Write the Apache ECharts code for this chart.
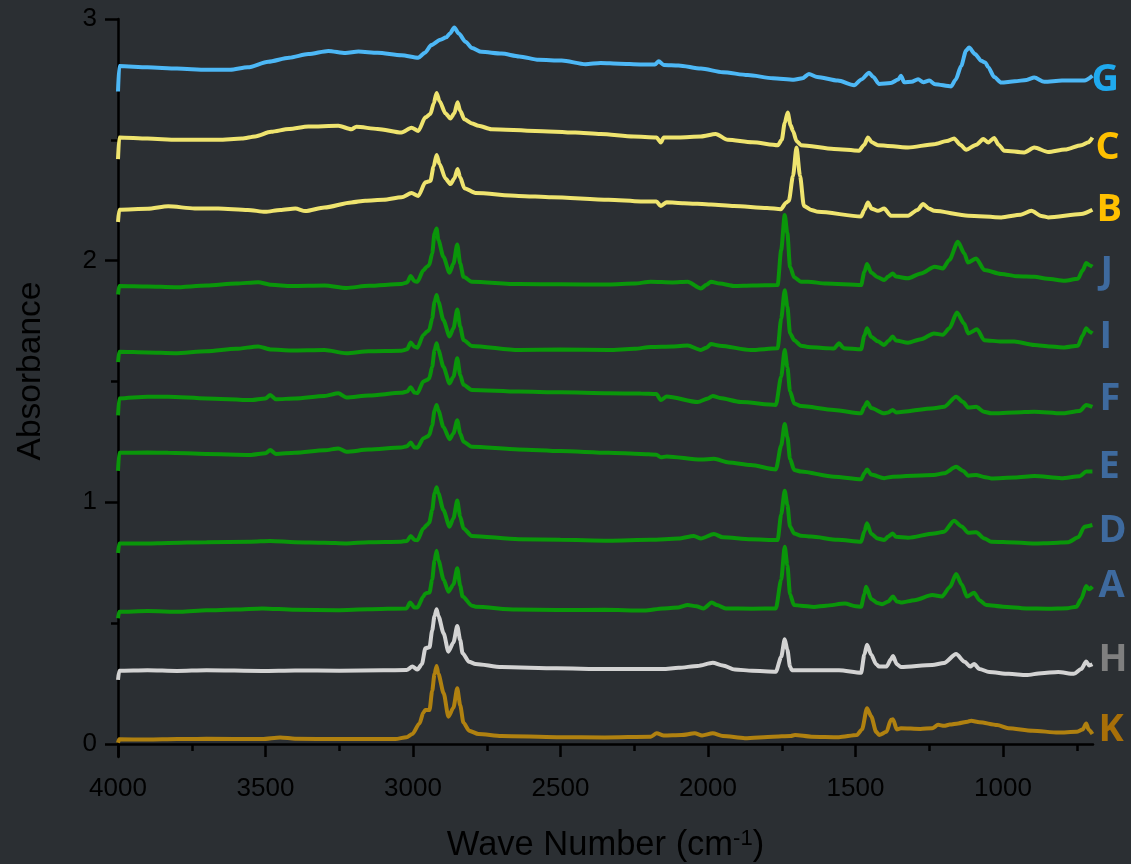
<!DOCTYPE html>
<html>
<head>
<meta charset="utf-8">
<script src="https://cdn.jsdelivr.net/npm/echarts@6/dist/echarts.min.js"></script>
<style>
html,body{margin:0;padding:0;background:#2b2f33;}
#chart{width:1131px;height:864px;}
</style>
</head>
<body>
<div id="chart"></div>
<script>
// ---- tick labels ----
const xTicks = [4000, 3500, 3000, 2500, 2000, 1500, 1000];
const xMinorTicks = [3750, 3250, 2750, 2250, 1750, 1250, 750];
const yTicks = [0, 1, 2, 3];
const yMinorTicks = [0.5, 1.5, 2.5];

// ---- series names (top to bottom) ----
const seriesNames = ['G', 'C', 'B', 'J', 'I', 'F', 'E', 'D', 'A', 'H', 'K'];

// ---- spectra: [wave number (cm-1), absorbance] ----
const G = [[4000,2.70],[3996,2.805],[3900,2.80],[3800,2.795],[3700,2.79],[3620,2.79],[3560,2.80],[3491,2.823],[3420,2.84],[3355,2.855],[3287,2.868],[3229,2.859],[3185,2.865],[3120,2.86],[3039,2.85],[2982,2.84],[2960,2.86],[2938,2.892],[2907,2.914],[2887,2.924],[2875,2.94],[2860,2.965],[2845,2.94],[2822,2.906],[2800,2.88],[2768,2.864],[2700,2.857],[2640,2.845],[2574,2.831],[2496,2.828],[2415,2.813],[2364,2.818],[2300,2.815],[2230,2.812],[2180,2.812],[2167,2.825],[2150,2.81],[2100,2.808],[2024,2.795],[1950,2.78],[1865,2.768],[1780,2.755],[1709,2.749],[1680,2.755],[1658,2.772],[1630,2.76],[1560,2.745],[1505,2.726],[1480,2.75],[1454,2.778],[1440,2.76],[1420,2.731],[1380,2.735],[1355,2.75],[1346,2.765],[1335,2.738],[1310,2.74],[1288,2.751],[1270,2.738],[1250,2.745],[1230,2.73],[1176,2.721],[1160,2.75],[1142,2.806],[1125,2.87],[1115,2.882],[1095,2.855],[1074,2.827],[1060,2.82],[1050,2.8],[1030,2.76],[1006,2.737],[960,2.742],[920,2.748],[894,2.758],[860,2.74],[800,2.745],[760,2.745],[724,2.745],[697,2.765]];

const C = [[4000,2.42],[3996,2.51],[3900,2.505],[3800,2.50],[3660,2.50],[3580,2.505],[3535,2.514],[3481,2.533],[3420,2.545],[3355,2.555],[3253,2.558],[3209,2.544],[3192,2.554],[3120,2.545],[3039,2.53],[3005,2.55],[2982,2.537],[2958,2.593],[2941,2.607],[2930,2.65],[2920,2.694],[2910,2.66],[2890,2.61],[2873,2.588],[2860,2.61],[2849,2.655],[2840,2.62],[2826,2.585],[2800,2.568],[2778,2.558],[2734,2.544],[2585,2.537],[2450,2.53],[2364,2.524],[2252,2.514],[2175,2.51],[2160,2.489],[2150,2.51],[2100,2.51],[2024,2.514],[1974,2.524],[1933,2.5],[1850,2.49],[1763,2.478],[1750,2.5],[1740,2.57],[1730,2.613],[1720,2.56],[1712,2.537],[1700,2.495],[1685,2.478],[1573,2.462],[1488,2.455],[1470,2.48],[1458,2.51],[1445,2.49],[1424,2.478],[1322,2.468],[1234,2.482],[1190,2.495],[1166,2.506],[1145,2.48],[1125,2.459],[1090,2.48],[1067,2.503],[1050,2.489],[1030,2.508],[1015,2.48],[996,2.455],[928,2.448],[894,2.468],[847,2.45],[790,2.46],[735,2.478],[710,2.49],[697,2.51]];

const B = [[4000,2.16],[3996,2.211],[3900,2.215],[3830,2.225],[3740,2.216],[3660,2.216],[3560,2.21],[3501,2.202],[3450,2.21],[3399,2.216],[3365,2.205],[3300,2.22],[3209,2.241],[3162,2.248],[3100,2.252],[3039,2.262],[3005,2.28],[2982,2.268],[2958,2.324],[2941,2.33],[2930,2.39],[2920,2.437],[2910,2.40],[2890,2.34],[2873,2.317],[2860,2.34],[2849,2.379],[2840,2.345],[2826,2.30],[2788,2.28],[2642,2.268],[2530,2.262],[2337,2.252],[2228,2.245],[2175,2.245],[2160,2.226],[2140,2.242],[2082,2.238],[1990,2.232],[1912,2.226],[1800,2.218],[1753,2.213],[1735,2.24],[1726,2.248],[1712,2.35],[1700,2.468],[1688,2.35],[1675,2.226],[1650,2.21],[1627,2.202],[1481,2.183],[1470,2.21],[1458,2.241],[1445,2.215],[1424,2.206],[1403,2.216],[1380,2.186],[1322,2.186],[1290,2.21],[1271,2.234],[1250,2.215],[1234,2.206],[1118,2.186],[1006,2.179],[940,2.19],[904,2.206],[870,2.185],[847,2.179],[735,2.193],[697,2.211]];

const J = [[4000,1.86],[3996,1.895],[3900,1.893],[3807,1.89],[3700,1.897],[3600,1.905],[3525,1.911],[3480,1.90],[3413,1.895],[3300,1.897],[3226,1.887],[3150,1.896],[3040,1.903],[3020,1.91],[3008,1.936],[2995,1.915],[2985,1.913],[2965,1.96],[2953,1.975],[2945,1.982],[2935,2.03],[2927,2.113],[2920,2.133],[2914,2.085],[2897,2.016],[2876,1.95],[2863,1.988],[2850,2.067],[2840,1.988],[2829,1.933],[2801,1.913],[2642,1.903],[2500,1.902],[2337,1.901],[2250,1.905],[2194,1.913],[2120,1.91],[2069,1.913],[2024,1.885],[2005,1.90],[1990,1.913],[1960,1.905],[1912,1.895],[1850,1.897],[1764,1.899],[1752,2.044],[1740,2.189],[1731,2.113],[1722,1.975],[1708,1.931],[1685,1.913],[1661,1.913],[1600,1.905],[1481,1.899],[1470,1.954],[1461,1.986],[1447,1.951],[1425,1.931],[1402,1.92],[1389,1.934],[1374,1.947],[1363,1.934],[1323,1.927],[1278,1.947],[1232,1.975],[1204,1.968],[1182,2.003],[1153,2.078],[1131,2.03],[1119,1.992],[1091,2.009],[1063,1.961],[1006,1.945],[950,1.935],[893,1.933],[850,1.925],[791,1.917],[746,1.925],[730,1.96],[718,1.99],[705,1.98],[697,1.975]];

const I = [[4000,1.58],[3996,1.623],[3900,1.62],[3807,1.617],[3700,1.625],[3600,1.635],[3525,1.645],[3480,1.632],[3413,1.628],[3300,1.63],[3226,1.617],[3150,1.625],[3040,1.627],[3020,1.633],[3008,1.661],[2995,1.644],[2985,1.64],[2965,1.692],[2953,1.706],[2945,1.713],[2935,1.761],[2927,1.83],[2920,1.858],[2914,1.83],[2897,1.754],[2876,1.686],[2863,1.72],[2850,1.798],[2840,1.727],[2829,1.672],[2801,1.647],[2642,1.63],[2500,1.632],[2337,1.63],[2250,1.635],[2194,1.643],[2120,1.645],[2069,1.649],[2024,1.63],[2005,1.64],[1990,1.655],[1960,1.648],[1855,1.63],[1764,1.637],[1752,1.76],[1740,1.878],[1731,1.81],[1722,1.70],[1708,1.671],[1685,1.648],[1661,1.643],[1600,1.638],[1573,1.636],[1556,1.658],[1540,1.638],[1481,1.633],[1470,1.69],[1461,1.72],[1447,1.685],[1425,1.666],[1403,1.651],[1389,1.667],[1374,1.686],[1363,1.67],[1322,1.66],[1278,1.675],[1234,1.699],[1204,1.693],[1182,1.72],[1156,1.785],[1132,1.74],[1118,1.699],[1088,1.716],[1064,1.671],[1006,1.665],[962,1.665],[894,1.651],[840,1.645],[792,1.641],[746,1.648],[730,1.69],[718,1.72],[705,1.705],[697,1.699]];

const F = [[4000,1.36],[3996,1.43],[3900,1.437],[3830,1.437],[3700,1.43],[3549,1.423],[3500,1.43],[3484,1.444],[3465,1.426],[3400,1.43],[3300,1.44],[3253,1.451],[3226,1.434],[3150,1.442],[3040,1.453],[3020,1.458],[3008,1.476],[2995,1.454],[2985,1.452],[2965,1.50],[2953,1.506],[2945,1.513],[2935,1.561],[2927,1.63],[2920,1.658],[2914,1.63],[2897,1.561],[2876,1.492],[2863,1.52],[2850,1.596],[2840,1.527],[2829,1.486],[2801,1.465],[2642,1.458],[2500,1.455],[2337,1.451],[2228,1.45],[2175,1.448],[2160,1.423],[2140,1.438],[2035,1.415],[2000,1.43],[1984,1.44],[1960,1.432],[1889,1.415],[1770,1.403],[1752,1.52],[1740,1.63],[1731,1.56],[1722,1.46],[1708,1.409],[1685,1.398],[1573,1.382],[1481,1.368],[1470,1.395],[1461,1.415],[1447,1.39],[1403,1.368],[1389,1.372],[1374,1.382],[1363,1.372],[1234,1.389],[1200,1.395],[1159,1.437],[1135,1.415],[1118,1.392],[1091,1.395],[1065,1.375],[1040,1.368],[960,1.372],[894,1.375],[802,1.368],[740,1.378],[718,1.403],[697,1.395]];

const E = [[4000,1.13],[3996,1.205],[3900,1.206],[3830,1.205],[3700,1.20],[3549,1.196],[3500,1.203],[3484,1.216],[3465,1.20],[3400,1.205],[3300,1.215],[3253,1.223],[3226,1.209],[3150,1.218],[3040,1.227],[3020,1.232],[3008,1.247],[2995,1.227],[2985,1.226],[2965,1.264],[2953,1.271],[2945,1.278],[2935,1.318],[2927,1.38],[2920,1.403],[2914,1.38],[2897,1.312],[2876,1.261],[2863,1.285],[2850,1.34],[2840,1.285],[2829,1.251],[2801,1.23],[2642,1.219],[2500,1.212],[2337,1.205],[2228,1.20],[2175,1.197],[2160,1.186],[2140,1.19],[2024,1.177],[1980,1.18],[1930,1.165],[1855,1.154],[1770,1.136],[1752,1.235],[1740,1.324],[1731,1.27],[1722,1.18],[1708,1.134],[1685,1.127],[1573,1.106],[1481,1.095],[1470,1.12],[1461,1.136],[1447,1.115],[1403,1.10],[1374,1.106],[1234,1.113],[1200,1.12],[1159,1.147],[1135,1.13],[1118,1.11],[1091,1.113],[1065,1.105],[1040,1.099],[960,1.103],[894,1.109],[802,1.10],[740,1.108],[718,1.127],[697,1.127]];

const D = [[4000,0.79],[3996,0.83],[3900,0.83],[3830,0.832],[3700,0.835],[3549,0.837],[3484,0.84],[3400,0.835],[3300,0.833],[3226,0.83],[3150,0.835],[3040,0.837],[3020,0.84],[3008,0.861],[2995,0.844],[2985,0.843],[2965,0.892],[2953,0.906],[2945,0.916],[2935,0.968],[2927,1.037],[2920,1.062],[2914,1.037],[2897,0.968],[2876,0.899],[2863,0.934],[2850,1.007],[2840,0.941],[2829,0.892],[2801,0.861],[2642,0.847],[2500,0.845],[2337,0.841],[2194,0.845],[2100,0.85],[2048,0.861],[2024,0.85],[1980,0.869],[1950,0.855],[1855,0.847],[1764,0.844],[1752,0.95],[1740,1.048],[1731,0.99],[1722,0.90],[1708,0.871],[1685,0.862],[1651,0.858],[1560,0.845],[1481,0.837],[1470,0.88],[1461,0.913],[1447,0.87],[1425,0.85],[1403,0.844],[1389,0.858],[1374,0.871],[1363,0.857],[1322,0.853],[1234,0.871],[1200,0.878],[1166,0.924],[1140,0.90],[1118,0.874],[1091,0.876],[1063,0.85],[1040,0.837],[960,0.834],[894,0.83],[830,0.832],[779,0.835],[745,0.855],[724,0.899],[697,0.906]];

const A = [[4000,0.52],[3996,0.547],[3900,0.55],[3787,0.547],[3700,0.553],[3600,0.556],[3511,0.561],[3400,0.555],[3257,0.553],[3150,0.557],[3022,0.561],[3010,0.585],[2995,0.565],[2985,0.565],[2965,0.61],[2958,0.623],[2944,0.627],[2935,0.68],[2927,0.76],[2920,0.80],[2914,0.76],[2896,0.679],[2880,0.63],[2863,0.66],[2850,0.727],[2840,0.655],[2832,0.61],[2800,0.572],[2788,0.568],[2650,0.556],[2513,0.554],[2350,0.555],[2215,0.552],[2153,0.561],[2100,0.565],[2069,0.575],[2040,0.57],[2015,0.561],[1987,0.585],[1970,0.575],[1940,0.561],[1850,0.56],[1770,0.561],[1752,0.68],[1740,0.816],[1731,0.74],[1722,0.62],[1709,0.575],[1685,0.572],[1641,0.567],[1600,0.572],[1536,0.581],[1500,0.57],[1481,0.568],[1470,0.62],[1464,0.651],[1447,0.60],[1425,0.583],[1410,0.578],[1389,0.59],[1373,0.61],[1360,0.59],[1346,0.585],[1300,0.595],[1240,0.616],[1207,0.61],[1180,0.65],[1159,0.703],[1140,0.66],[1122,0.61],[1098,0.626],[1080,0.595],[1057,0.575],[1000,0.568],[921,0.561],[850,0.56],[780,0.562],[751,0.568],[735,0.60],[718,0.654],[708,0.64],[697,0.651]];

const H = [[4000,0.265],[3996,0.303],[3900,0.305],[3800,0.302],[3700,0.305],[3511,0.302],[3400,0.304],[3250,0.303],[3100,0.305],[3022,0.306],[3002,0.32],[2985,0.308],[2970,0.33],[2958,0.396],[2944,0.40],[2935,0.47],[2927,0.53],[2920,0.557],[2914,0.53],[2896,0.457],[2880,0.382],[2863,0.42],[2850,0.488],[2840,0.43],[2832,0.375],[2810,0.34],[2788,0.331],[2700,0.318],[2513,0.313],[2350,0.31],[2153,0.31],[2100,0.315],[2035,0.323],[1984,0.336],[1950,0.325],[1909,0.308],[1850,0.303],[1770,0.299],[1752,0.36],[1740,0.433],[1731,0.39],[1722,0.32],[1716,0.305],[1650,0.305],[1556,0.305],[1481,0.295],[1470,0.37],[1461,0.41],[1447,0.37],[1430,0.33],[1420,0.32],[1395,0.32],[1380,0.35],[1373,0.364],[1360,0.33],[1346,0.318],[1240,0.327],[1200,0.335],[1159,0.372],[1130,0.34],[1111,0.32],[1098,0.331],[1080,0.31],[1047,0.298],[980,0.29],[921,0.285],[870,0.293],[813,0.298],[760,0.29],[735,0.31],[718,0.341],[708,0.325],[697,0.33]];

const K = [[4000,0.005],[3996,0.019],[3900,0.018],[3800,0.02],[3700,0.022],[3511,0.02],[3450,0.027],[3400,0.022],[3250,0.02],[3100,0.02],[3060,0.02],[3022,0.028],[3002,0.041],[2978,0.085],[2965,0.13],[2958,0.141],[2944,0.14],[2935,0.22],[2927,0.29],[2920,0.323],[2914,0.29],[2896,0.21],[2880,0.113],[2863,0.15],[2850,0.23],[2840,0.16],[2829,0.088],[2810,0.055],[2778,0.041],[2700,0.033],[2513,0.028],[2350,0.027],[2194,0.03],[2174,0.044],[2150,0.035],[2090,0.037],[2045,0.044],[2020,0.035],[1984,0.044],[1950,0.033],[1875,0.024],[1780,0.03],[1720,0.033],[1705,0.037],[1650,0.03],[1556,0.028],[1495,0.037],[1478,0.06],[1461,0.148],[1447,0.115],[1430,0.05],[1420,0.037],[1395,0.05],[1380,0.10],[1373,0.102],[1360,0.06],[1346,0.065],[1280,0.062],[1240,0.065],[1220,0.079],[1200,0.075],[1180,0.08],[1152,0.085],[1120,0.092],[1108,0.096],[1080,0.09],[1020,0.078],[982,0.065],[900,0.055],[813,0.047],[751,0.05],[730,0.06],[718,0.085],[710,0.06],[697,0.041]];

const seriesData = {G, C, B, J, I, F, E, D, A, H, K};

// ---- styling ----
const lineColors = {G:'#4db8f6', C:'#efe46f', B:'#efe46f', J:'#0a960a', I:'#0a960a', F:'#0a960a', E:'#0a960a', D:'#0a960a', A:'#0a960a', H:'#d3d3d3', K:'#b08110'};
const labelColors = {G:'#1fa9ee', C:'#ffc000', B:'#ffc000', J:'#3e6a9e', I:'#3e6a9e', F:'#3e6a9e', E:'#3e6a9e', D:'#3e6a9e', A:'#3e6a9e', H:'#7f7f7f', K:'#a86f08'};
const labelShiftY = {G:4, C:11, B:1, J:5, I:4, F:-8, E:-4, D:6, A:0, H:-4, K:-4};
const labelShiftX = {G:-1, C:3, B:4, J:8, I:7, F:7, E:6, D:6, A:6, H:6, K:6};

const axisFont = 'Liberation Sans, Arial, sans-serif';
const xmin = 695, xmax = 4000, ymin = -0.054, ymax = 3;

const chart = echarts.init(document.getElementById('chart'), null, {renderer: 'canvas'});

const series = seriesNames.map(n => ({
  name: n,
  type: 'line',
  xAxisIndex: 0,
  yAxisIndex: 0,
  data: seriesData[n],
  showSymbol: false,
  symbol: 'none',
  smooth: 0.25,
  smoothMonotone: 'x',
  lineStyle: {color: lineColors[n], width: 4},
  itemStyle: {color: lineColors[n]},
  clip: false,
  endLabel: {
    show: true,
    formatter: n,
    color: labelColors[n],
    fontSize: 38,
    fontWeight: 'bold',
    fontFamily: 'Open Sans, sans-serif',
    align: 'left',
    verticalAlign: 'middle',
    distance: 0,
    offset: [labelShiftX[n], labelShiftY[n]]
  }
}));

const option = {
  backgroundColor: '#2b2f33',
  animation: false,
  grid: {left: 118, right: 38, top: 19, bottom: 107, containLabel: false, outerBoundsMode: 'none'},
  xAxis: [{
    type: 'value', inverse: true, min: xmin, max: xmax, position: 'bottom',
    axisLine: {show: true, lineStyle: {color: '#000', width: 2.5}},
    axisTick: {show: true, customValues: xTicks, length: 13, lineStyle: {color: '#000', width: 2.5}},
    axisLabel: {show: true, customValues: xTicks, formatter: v => String(v), color: '#000', fontSize: 26, fontFamily: axisFont, margin: 19},
    splitLine: {show: false},
    name: '{a|Wave Number (cm}{s|-1}{a|)}',
    nameLocation: 'middle',
    nameGap: 71,
    nameTextStyle: {
      rich: {
        a: {fontSize: 34.5, color: '#000', fontFamily: axisFont},
        s: {fontSize: 22, color: '#000', fontFamily: axisFont, verticalAlign: 'top'}
      }
    }
  }, {
    type: 'value', inverse: true, min: xmin, max: xmax, position: 'bottom',
    axisLine: {show: false},
    axisTick: {show: true, customValues: xMinorTicks, length: 7, lineStyle: {color: '#000', width: 2.5}},
    axisLabel: {show: false},
    splitLine: {show: false}
  }],
  yAxis: [{
    type: 'value', min: ymin, max: ymax, position: 'left',
    axisLine: {show: true, lineStyle: {color: '#000', width: 2.5}},
    axisTick: {show: true, customValues: yTicks, length: 13, lineStyle: {color: '#000', width: 2.5}},
    axisLabel: {show: true, customValues: yTicks, formatter: v => String(v), color: '#000', fontSize: 26, fontFamily: axisFont, margin: 21},
    splitLine: {show: false},
    name: 'Absorbance',
    nameLocation: 'middle',
    nameRotate: 90,
    nameGap: 70,
    nameTextStyle: {fontSize: 33.5, color: '#000', fontFamily: axisFont, padding: [0, 0, 0, 34]}
  }, {
    type: 'value', min: ymin, max: ymax, position: 'left',
    axisLine: {show: false},
    axisTick: {show: true, customValues: yMinorTicks, length: 7, lineStyle: {color: '#000', width: 2.5}},
    axisLabel: {show: false},
    splitLine: {show: false}
  }],
  series: series
};

chart.setOption(option);
</script>
</body>
</html>
